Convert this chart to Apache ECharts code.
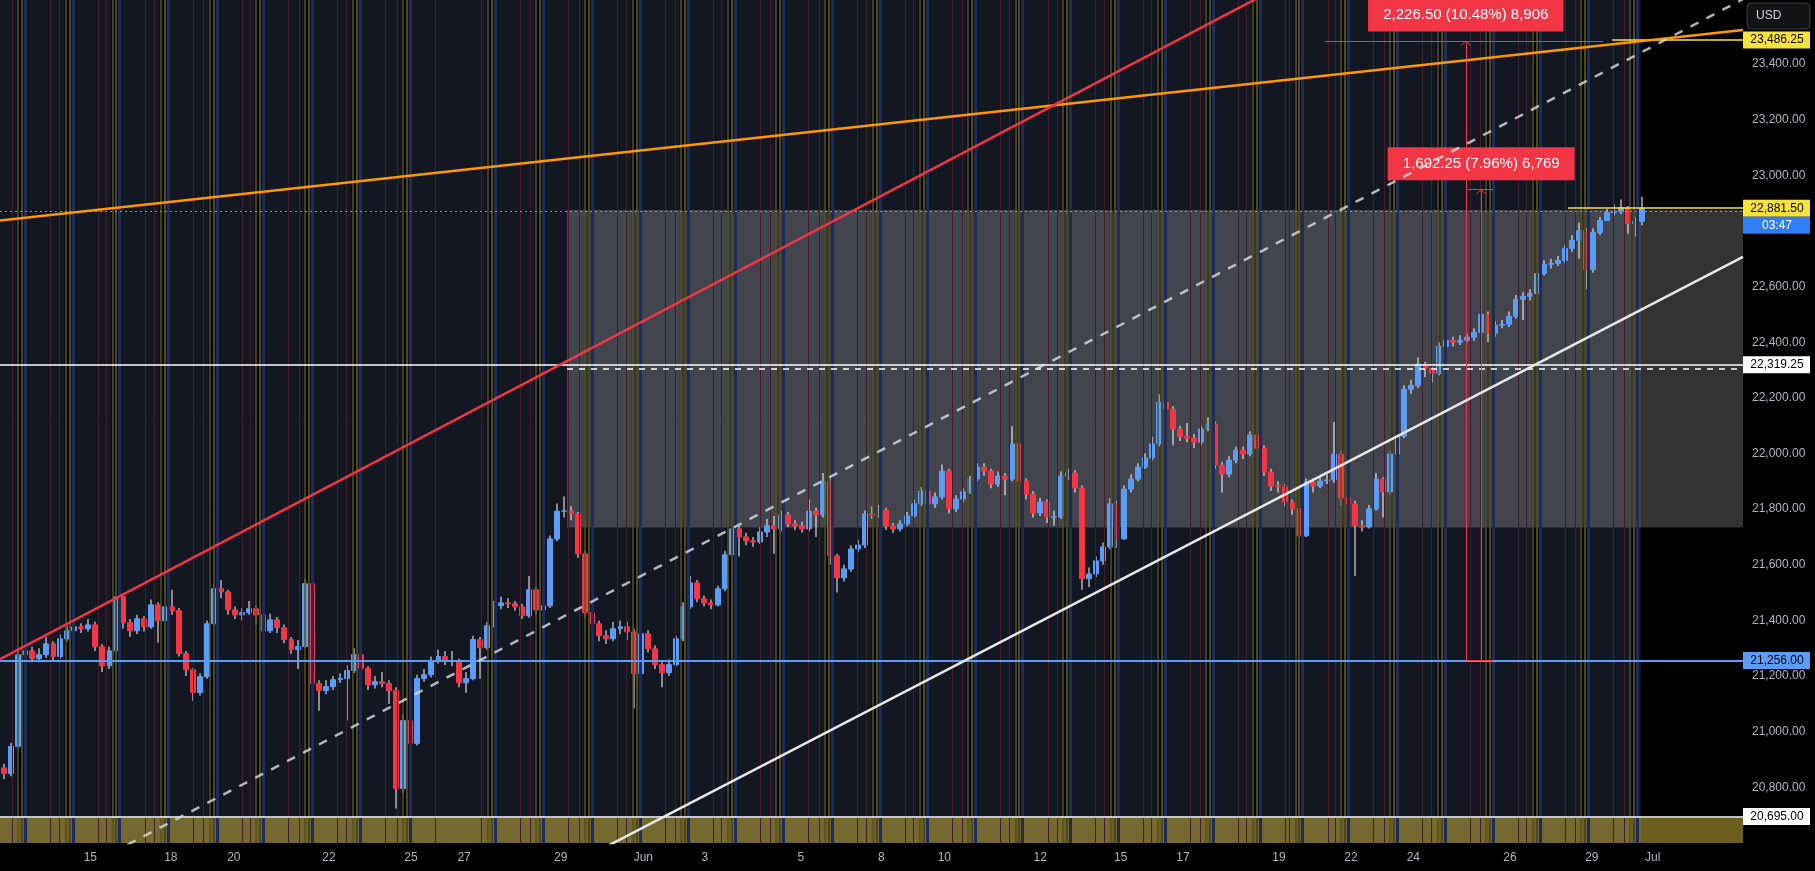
<!DOCTYPE html>
<html>
<head>
<meta charset="utf-8">
<script src="https://cdn.jsdelivr.net/npm/echarts@6.0.0/dist/echarts.min.js"></script>
<style>
  html, body { margin: 0; padding: 0; background: #000; }
  #chart { width: 1815px; height: 871px; }
</style>
</head>
<body>
<div id="chart"></div>
<script>
// price data, one bar per slot (open = previous close)
const firstOpen = 20870
const closes = [
  20850, 20947, 21277, 21291, 21263, 21277, 21316, 21270, 21334, 21363,
  21377, 21370, 21384, 21306, 21237, 21291, 21485, 21392, 21363, 21406,
  21377, 21456, 21399, 21449, 21435, 21281, 21223, 21141, 21198, 21388,
  21514, 21503, 21438, 21420, 21428, 21442, 21420, 21363, 21402, 21374,
  21331, 21295, 21306, 21532, 21173, 21148, 21162, 21187, 21191, 21220,
  21277, 21227, 21169, 21180, 21173, 21148, 20796, 21040, 20958, 21191,
  21205, 21255, 21270, 21255, 21255, 21176, 21191, 21331, 21302, 21381,
  21453, 21463, 21460, 21449, 21417, 21510, 21438, 21453, 21693, 21793,
  21793, 21783, 21639, 21428, 21388, 21345, 21334, 21370, 21377, 21359,
  21209, 21352, 21298, 21241, 21212, 21241, 21334, 21449, 21535, 21478,
  21463, 21456, 21514, 21636, 21729, 21700, 21686, 21682, 21718, 21740,
  21729, 21779, 21747, 21740, 21729, 21793, 21779, 21901, 21632, 21553,
  21585, 21657, 21671, 21783, 21779, 21797, 21740, 21729, 21747, 21776,
  21819, 21865, 21819, 21844, 21937, 21801, 21836, 21862, 21908, 21951,
  21937, 21890, 21919, 21908, 22034, 21901, 21854, 21786, 21826, 21772,
  21772, 21919, 21930, 21876, 21550, 21567, 21614, 21664, 21819, 21693,
  21872, 21908, 21951, 21984, 22034, 22184, 22159, 22088, 22062, 22055,
  22041, 22088, 22106, 21958, 21926, 21976, 22012, 21998, 22066, 22019,
  21933, 21883, 21880, 21826, 21801, 21704, 21897, 21883, 21901, 21905,
  21998, 21840, 21819, 21740, 21736, 21801, 21908, 21862, 21998, 22062,
  22231, 22245, 22321, 22306, 22288, 22385, 22407, 22400, 22407, 22418,
  22436, 22500, 22432, 22461, 22464, 22493, 22554, 22565, 22575, 22647,
  22680, 22683, 22694, 22737, 22766, 22801, 22661, 22794, 22837, 22866,
  22869, 22884, 22827, 22834, 22881.5
]
const highs = [
  20885, 20960, 21300, 21330, 21305, 21300, 21340, 21325, 21350, 21380,
  21395, 21390, 21405, 21395, 21315, 21305, 21520, 21490, 21405, 21420,
  21415, 21475, 21465, 21470, 21510, 21445, 21290, 21230, 21210, 21400,
  21535, 21545, 21510, 21450, 21445, 21470, 21455, 21430, 21425, 21412,
  21385, 21340, 21330, 21548, 21540, 21185, 21185, 21200, 21210, 21240,
  21300, 21290, 21235, 21200, 21215, 21185, 21160, 21060, 21050, 21205,
  21225, 21270, 21295, 21290, 21290, 21262, 21215, 21345, 21340, 21395,
  21470, 21485, 21480, 21470, 21460, 21560, 21520, 21470, 21705, 21820,
  21845, 21810, 21790, 21650, 21440, 21400, 21365, 21395, 21400, 21395,
  21370, 21375, 21365, 21310, 21250, 21260, 21345, 21465, 21560, 21545,
  21490, 21475, 21525, 21650, 21745, 21740, 21715, 21700, 21735, 21765,
  21775, 21795, 21790, 21760, 21755, 21835, 21805, 21930, 21910, 21640,
  21600, 21670, 21690, 21795, 21810, 21815, 21805, 21750, 21760, 21790,
  21835, 21880, 21875, 21860, 21960, 21945, 21850, 21875, 21920, 21965,
  21965, 21945, 21935, 21930, 22098, 22045, 21910, 21865, 21840, 21835,
  21795, 21935, 21945, 21940, 21885, 21590, 21630, 21680, 21840, 21830,
  21885, 21925, 21965, 22000, 22060, 22213, 22200, 22170, 22100, 22110,
  22070, 22100, 22130, 22115, 21970, 21990, 22025, 22025, 22080, 22075,
  22030, 21945, 21900, 21890, 21835, 21810, 21910, 21910, 21915, 21925,
  22113, 22010, 21855, 21830, 21760, 21815, 21930, 21915, 22010, 22075,
  22245, 22265, 22345, 22330, 22310, 22400, 22430, 22420, 22425, 22430,
  22450, 22543, 22510, 22475, 22480, 22510, 22570, 22580, 22590, 22665,
  22695, 22700, 22710, 22750, 22785, 22830, 22810, 22810, 22850, 22880,
  22895, 22913, 22890, 22850, 22923
]
const lows = [
  20830, 20840, 20940, 21262, 21250, 21250, 21265, 21255, 21262, 21325,
  21350, 21355, 21360, 21290, 21215, 21225, 21285, 21370, 21340, 21350,
  21360, 21370, 21320, 21390, 21420, 21270, 21200, 21110, 21130, 21190,
  21380, 21480, 21420, 21405, 21400, 21420, 21385, 21345, 21355, 21355,
  21318, 21280, 21225, 21300, 21160, 21075, 21135, 21150, 21175, 21040,
  21210, 21200, 21150, 21155, 21160, 21100, 20724, 20780, 20930, 20950,
  21180, 21195, 21245, 21240, 21235, 21160, 21140, 21185, 21190, 21295,
  21375, 21440, 21445, 21435, 21405, 21410, 21420, 21325, 21445, 21685,
  21770, 21760, 21625, 21410, 21360, 21325, 21315, 21325, 21350, 21330,
  21083, 21200, 21285, 21225, 21160, 21200, 21235, 21325, 21440, 21465,
  21450, 21440, 21450, 21505, 21625, 21630, 21670, 21665, 21675, 21700,
  21640, 21720, 21735, 21725, 21715, 21720, 21700, 21770, 21600, 21500,
  21540, 21575, 21645, 21660, 21765, 21770, 21725, 21715, 21720, 21740,
  21770, 21810, 21800, 21805, 21835, 21785, 21790, 21825, 21855, 21900,
  21920, 21875, 21880, 21850, 21900, 21880, 21835, 21770, 21775, 21750,
  21740, 21765, 21905, 21860, 21510, 21520, 21555, 21600, 21655, 21660,
  21690, 21860, 21900, 21945, 21975, 22025, 22145, 22030, 22045, 22040,
  22020, 22030, 22080, 21945, 21860, 21915, 21965, 21980, 21990, 22000,
  21920, 21865, 21860, 21810, 21780, 21646, 21700, 21860, 21875, 21890,
  21895, 21810, 21765, 21560, 21720, 21730, 21795, 21770, 21850, 21990,
  22055, 22215, 22235, 22275, 22255, 22280, 22375, 22385, 22390, 22400,
  22405, 22430, 22400, 22420, 22450, 22455, 22485, 22480, 22550, 22565,
  22640, 22665, 22675, 22685, 22725, 22700, 22590, 22650, 22785, 22855,
  22855, 22860, 22790, 22780, 22820
]

// time axis: where each date starts, in bar slots
const dayLabels = ['15', '18', '20', '22', '25', '27', '29', 'Jun', '3', '5', '8', '10', '12', '15', '17', '19', '22', '24', '26', '29', 'Jul']
const dayIndex = [12.4, 23.9, 32.9, 46.5, 58.2, 65.8, 79.6, 91.4, 100.2, 113.9, 125.4, 134.4, 148.1, 159.6, 168.5, 182.2, 192.5, 201.4, 215.2, 226.9, 235.6]
// session markers of the background indicator
const sessionIdx = [3.1, 9.9, 16.6, 23.5, 30.5, 37.1, 44.1, 50.9, 58.1, 70.2, 77.1, 84.1, 90.9, 97.8, 104.5, 111.4, 118.4, 125.2, 131.9, 138.8, 145.6, 152.4, 159.2, 165.9, 172.8, 179.5, 185.6, 192.1, 199.1, 205.9, 212.8, 219.5, 226.4, 233.4]
const lastBarEnd = 233.9

// drawings
const supportLevel = 21256
const midLevel = 22319.25
const floorLevel = 20695
const prevCloseLevel = 22869
const lastPrice = 22881.5
const countdown = '03:47'
const targetLevel = 23486.25
const boxRange = { start: 80.5, top: 22875, bottom: 21734 }
const orangeLine = [[-0.5, 22837], [248.5, 23522]]
const redLine = [[-0.5, 21261], [199.5, 23906]]
const dashLine = [[-0.5, 20354], [248.5, 23633]]
const whiteLine = [[85.2, 20575], [248.5, 22707]]
const measures = [
  { idx: 208.9, from: 21256, change: 2226.5, pct: 10.48, bars: 8906, cap: [188.8, 228.5] },
  { idx: 211.1, from: 21256, change: 1692.25, pct: 7.96, bars: 6769, cap: [209.2, 212.8] },
]

const fmt = (v, d) => v.toLocaleString('en-US', { minimumFractionDigits: d, maximumFractionDigits: d })
const hiddenTicks = [20600, 22800, 23600]

let bodies = closes.map((c, i) => {
  let o = i ? closes[i - 1] : firstOpen
  return [i, o, c, Math.min(o, c), Math.max(o, c)]
})
let wicks = closes.map((c, i) => [i, lows[i], highs[i], lows[i], highs[i]])

// background stripes
const solid = (color, width) => ({ color: color, width: width, type: 'solid' })
let stripeAreas = [[{ xAxis: -0.5, itemStyle: { color: '#131722' } }, { xAxis: lastBarEnd }]]
let stripeLines = []
sessionIdx.forEach((b) => {
  stripeAreas.push([{ xAxis: b - 1.2, itemStyle: { color: 'rgba(0,0,0,0.8)' } }, { xAxis: b - 0.25 }])
  stripeLines.push({ xAxis: b - 1.9, lineStyle: solid('#401e2a', 1) })
  stripeLines.push({ xAxis: b - 1.05, lineStyle: solid('#5a5324', 1.5) })
  stripeLines.push({ xAxis: b - 0.5, lineStyle: solid('#4d4822', 2) })
  stripeLines.push({ xAxis: b, lineStyle: solid('#1e2c5c', 3) })
  if (b + 3.6 < lastBarEnd) stripeLines.push({ xAxis: b + 3.6, lineStyle: solid('#401e2a', 1) })
})

const yellow = solid('#f7e23d', 1.5)
let levelLines = [
  { yAxis: supportLevel, lineStyle: solid('#5b9cf6', 2) },
  { yAxis: midLevel, lineStyle: solid('#ffffff', 1.5) },
  { yAxis: floorLevel, lineStyle: solid('#ffffff', 1.5) },
  { yAxis: prevCloseLevel, lineStyle: { color: '#5b9cf6', width: 1, type: [2, 3] } },
  [{ coord: [223.5, lastPrice], lineStyle: yellow }, { coord: [248.5, lastPrice] }],
  [{ coord: [229.8, targetLevel], lineStyle: yellow }, { coord: [248.5, targetLevel] }],
  [{ coord: [boxRange.start, (boxRange.top + boxRange.bottom) / 2], lineStyle: { color: '#ffffff', width: 1.5, type: [6, 6] } },
   { coord: [248.5, (boxRange.top + boxRange.bottom) / 2] }],
]

let measureLines = []
let measureLabels = []
const red = solid('#f23645', 1)
measures.forEach((m) => {
  let top = m.from + m.change
  measureLines.push([{ coord: [m.idx, m.from], lineStyle: red }, { coord: [m.idx, top] }])
  measureLines.push([{ coord: [m.cap[0], top], lineStyle: red }, { coord: [m.cap[1], top] }])
  measureLines.push([{ coord: [m.idx - 0.7, top - 16], lineStyle: red }, { coord: [m.idx, top] }])
  measureLines.push([{ coord: [m.idx + 0.7, top - 16], lineStyle: red }, { coord: [m.idx, top] }])
  let text = fmt(m.change, 2) + ' (' + fmt(m.pct, 2) + '%) ' + fmt(m.bars, 0)
  measureLabels.push({
    coord: [m.idx, top],
    symbol: 'rect',
    symbolSize: [text.length * 8.5, 33],
    symbolOffset: [0, -26],
    itemStyle: { color: '#f23645' },
    label: { show: true, position: 'inside', formatter: text, color: '#ffffff', fontSize: 15 },
  })
})
measureLines.push([{ coord: [209.2, supportLevel], lineStyle: red }, { coord: [212.8, supportLevel] }])

const silentLine = { symbol: ['none', 'none'], label: { show: false }, silent: true, animation: false }

let option = {
  backgroundColor: '#000000',
  animation: false,
  textStyle: { fontFamily: 'Liberation Sans, Arial, sans-serif' },
  grid: { left: 0, right: 72, top: 0, bottom: 28 },
  xAxis: {
    type: 'value',
    min: -0.5,
    max: 248.5,
    splitLine: { show: false },
    axisLine: { show: false },
    axisTick: { show: false },
    axisLabel: {
      customValues: dayIndex,
      formatter: (v) => dayLabels[dayIndex.indexOf(v)] || '',
      color: '#b2b5be',
      fontSize: 12,
      margin: 9,
    },
  },
  yAxis: {
    type: 'value',
    position: 'right',
    min: 20600,
    max: 23630,
    interval: 200,
    splitLine: { show: false },
    axisTick: { show: false },
    axisLine: { show: true, lineStyle: { color: '#2a2e39' } },
    axisLabel: {
      color: '#b2b5be',
      fontSize: 12,
      margin: 9,
      formatter: (v) => (v % 200 || hiddenTicks.includes(v) ? '' : fmt(v, 2)),
    },
  },
  series: [
    {
      type: 'line',
      data: [],
      z: 1,
      silent: true,
      markArea: { silent: true, animation: false, data: stripeAreas },
      markLine: Object.assign({ data: stripeLines }, silentLine),
    },
    {
      type: 'line',
      data: [],
      z: 2,
      silent: true,
      markArea: {
        silent: true,
        animation: false,
        data: [
          [{ xAxis: boxRange.start, yAxis: boxRange.top, itemStyle: { color: 'rgba(255,255,255,0.2)' } },
           { xAxis: 248.5, yAxis: boxRange.bottom }],
          [{ yAxis: 20600, itemStyle: { color: 'rgba(214,190,64,0.5)' } }, { yAxis: 20690 }],
        ],
      },
    },
    {
      type: 'candlestick',
      data: wicks,
      z: 3,
      barWidth: 1.5,
      silent: true,
      itemStyle: { color: '#ffffff', color0: '#ffffff', borderColor: '#ffffff', borderColor0: '#ffffff', borderWidth: 0 },
    },
    {
      type: 'candlestick',
      data: bodies,
      z: 4,
      barWidth: 5.5,
      silent: true,
      itemStyle: { color: '#5b9cf6', color0: '#f23645', borderColor: '#5b9cf6', borderColor0: '#f23645', borderWidth: 1 },
    },
    { type: 'line', data: orangeLine, z: 5, symbol: 'none', silent: true, lineStyle: { color: '#ff9800', width: 2.5 } },
    { type: 'line', data: redLine, z: 5, symbol: 'none', silent: true, lineStyle: { color: '#f23645', width: 2.5 } },
    { type: 'line', data: dashLine, z: 5, symbol: 'none', silent: true, lineStyle: { color: 'rgba(220,222,228,0.8)', width: 2.5, type: [9, 9] } },
    { type: 'line', data: whiteLine, z: 5, symbol: 'none', silent: true, lineStyle: { color: '#e8e8e8', width: 2.5 } },
    {
      type: 'line',
      data: [],
      z: 6,
      silent: true,
      markLine: Object.assign({ data: levelLines }, silentLine),
    },
    {
      type: 'line',
      data: [],
      z: 7,
      silent: true,
      markLine: Object.assign({ data: measureLines }, silentLine),
      markPoint: { silent: true, animation: false, data: measureLabels },
    },
  ],
}

let myChart = echarts.init(document.getElementById('chart'))
myChart.setOption(option)

// price tags on the right axis
const tags = [
  { v: targetLevel, bg: '#f7e23d', fg: '#000000' },
  { v: lastPrice, bg: '#f7e23d', fg: '#000000' },
  { v: midLevel, bg: '#ffffff', fg: '#000000' },
  { v: supportLevel, bg: '#5b9cf6', fg: '#000000' },
  { v: floorLevel, bg: '#ffffff', fg: '#000000' },
]
let elements = []
const addTag = (y, text, bg, fg) => {
  elements.push({ type: 'rect', z: 100, shape: { x: 1743, y: y - 8.5, width: 67, height: 17 }, style: { fill: bg } })
  elements.push({
    type: 'text', z: 101,
    style: { text: text, x: 1777, y: y, fill: fg, font: '12px Liberation Sans, Arial, sans-serif', align: 'center', verticalAlign: 'middle', textAlign: 'center', textVerticalAlign: 'middle' },
  })
}
tags.forEach((t) => {
  addTag(myChart.convertToPixel({ yAxisIndex: 0 }, t.v), fmt(t.v, 2), t.bg, t.fg)
})
addTag(myChart.convertToPixel({ yAxisIndex: 0 }, lastPrice) + 17, countdown, '#2f7ef5', '#ffffff')
elements.push({ type: 'rect', z: 100, shape: { x: 1747, y: 3, width: 63, height: 26, r: 4 }, style: { fill: '#131313', stroke: '#3a3d45', lineWidth: 1 } })
elements.push({
  type: 'text', z: 101,
  style: { text: 'USD', x: 1756, y: 16, fill: '#d1d4dc', font: '12px Liberation Sans, Arial, sans-serif', align: 'left', verticalAlign: 'middle', textAlign: 'left', textVerticalAlign: 'middle' },
})
myChart.setOption({ graphic: { elements: elements } })
</script>
</body>
</html>
